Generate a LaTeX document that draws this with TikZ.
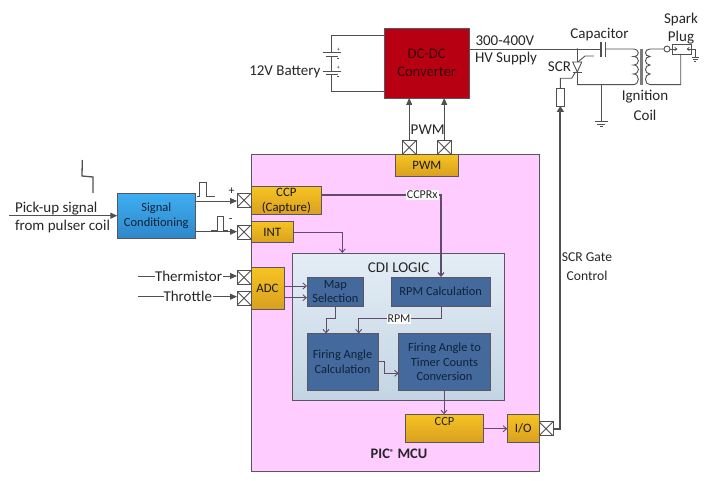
\documentclass[tikz,border=0pt]{standalone}
\usepackage{fontspec}
\setmainfont{Carlito}
\usetikzlibrary{arrows.meta,calc}
\definecolor{wire}{HTML}{505050}
\definecolor{inner}{HTML}{5F4B6B}
\definecolor{edgec}{HTML}{5A5560}
\definecolor{mcufill}{HTML}{FFCCFF}
\definecolor{conv}{HTML}{B70012}
\definecolor{convtxt}{HTML}{3A060E}
\definecolor{goldtop}{HTML}{F6C322}
\definecolor{goldbot}{HTML}{D9A020}
\definecolor{logicb}{HTML}{44699D}
\definecolor{logict}{HTML}{0F2238}
\definecolor{sigtop}{HTML}{3FAEF2}
\definecolor{sigbot}{HTML}{2E87C8}
\definecolor{cditop}{HTML}{E4EDF6}
\definecolor{cdibot}{HTML}{C3D5E3}
\tikzset{
  x=1pt,y=-1pt,
  every node/.style={inner sep=0pt,outer sep=0pt,align=center,font=\fontsize{15}{18}\selectfont,text=black!85},
  box/.style={draw=edgec,line width=0.9pt},
  gold/.style={box,top color=goldtop,bottom color=goldbot,font=\fontsize{12.8}{15}\selectfont,text=black!90},
  logic/.style={box,fill=logicb,font=\fontsize{12.4}{14.8}\selectfont,text=logict},
  pin/.style={draw=wire,line width=0.9pt,fill=white,minimum width=14pt,minimum height=14pt,
    path picture={\draw[wire,line width=0.9pt] (path picture bounding box.north west)--(path picture bounding box.south east)
      (path picture bounding box.north east)--(path picture bounding box.south west);}},
  wirel/.style={draw=wire,line width=0.9pt},
  bigarr/.style={wirel,-{Triangle[length=7pt,width=6pt]}},
  thickarr/.style={draw=wire,line width=1.8pt,-{Triangle[length=6pt,width=7pt]}},
  logicarr/.style={draw=inner,line width=0.9pt,-{Straight Barb[length=3.5pt,width=6pt]}},
  tag/.style={fill=white,inner xsep=1pt,inner ysep=1pt,font=\fontsize{12}{14}\selectfont},
  gatetxt/.style={font=\fontsize{13.6}{16}\selectfont},
}
% block given by its corner coordinates
\newcommand{\blk}[7]{\node[#2,minimum width={#5-#3},minimum height={#6-#4}] (#1) at ({(#3+#5)/2},{(#4+#6)/2}) {#7};}
\begin{document}
\begin{tikzpicture}
\useasboundingbox (0,0) rectangle (709,481);

% microcontroller body and logic area
\blk{mcu}{box,fill=mcufill}{251}{154.7}{539}{471}{}
\blk{cdi}{box,top color=cditop,bottom color=cdibot}{292.7}{253.3}{504.3}{400}{}
\node (cditxt) at (398.7,267.5) {CDI LOGIC};
\node[font=\fontsize{14.5}{16}\selectfont\bfseries] (pic) at (399,454) {PIC\raisebox{3.5pt}{\fontsize{8.5}{9}\selectfont ®} MCU};

% peripheral blocks
\blk{pwm}{gold}{395}{154.7}{458.7}{176}{PWM}
\blk{ccpc}{gold}{251}{186.7}{321.7}{214.3}{CCP\\(Capture)}
\blk{int}{gold}{251}{221.7}{293.3}{242.7}{INT}
\blk{adc}{gold}{251}{267.3}{284}{309.3}{ADC}
\blk{ccpo}{gold}{405.7}{414.3}{483.3}{442.3}{}
\node[font=\fontsize{12.5}{14}\selectfont] (ccpotxt) at (444.5,421.7) {CCP};
\blk{io}{gold}{507.3}{414.3}{539}{442.3}{I/O}

% logic blocks
\blk{map}{logic}{307}{277.3}{363.7}{306}{Map\\Selection}
\blk{rpm}{logic}{391}{277.3}{490.3}{306}{RPM Calculation}
\blk{fac}{logic}{307}{333.7}{378}{390}{Firing Angle\\Calculation}
\blk{ftc}{logic}{398.7}{333.7}{490.3}{390}{Firing Angle to\\Timer Counts\\Conversion}

% external blocks
\blk{dcdc}{box,fill=conv,text=convtxt,font=\fontsize{14.6}{18}\selectfont}{384.3}{28}{469}{98}{DC-DC\\Converter}
\blk{sig}{box,top color=sigtop,bottom color=sigbot,text=logict,font=\fontsize{12.5}{14.8}\selectfont}{117.3}{193.3}{195.3}{238.7}{Signal\\Conditioning}

% package pins
\node[pin] (pa) at (409.2,147.5) {};
\node[pin] (pb) at (444.2,147.5) {};
\node[pin] (pc) at (244,200.3) {};
\node[pin] (pd) at (244,232) {};
\node[pin] (pe) at (244,277.5) {};
\node[pin] (pf) at (244,298.2) {};
\node[pin] (pg) at (546,428.7) {};

% PWM outputs
\draw[bigarr] (pa.north) -- (pa.north |- dcdc.south);
\draw[bigarr] (pb.north) -- (pb.north |- dcdc.south);
\node (pwmtxt) at (427.7,130) {PWM};

% pick-up input and conditioned signals
\coordinate (pickup) at (9.3,215.7);
\draw[draw=wire,line width=1.2pt,-{Triangle[length=7pt,width=6pt]}] (pickup) -- (sig.west |- pickup);
\node[anchor=west] (pick1) at (15,209) {Pick-up signal};
\node[anchor=west] (pick2) at (15,227) {from pulser coil};
\draw[bigarr] (sig.east |- 0,201) -- (pc.west |- 0,201);
\draw[bigarr] (sig.east |- 0,231.7) -- (pd.west |- 0,231.7);
\node[font=\fontsize{12}{13}\selectfont] (plus) at (231.7,191) {+};
\node[font=\fontsize{12}{13}\selectfont] (minus) at (230.7,221) {-};
\draw[wirel] (197,196)--(199,196)--(199,182)--(206,182)--(206,196)--(215,196);
\draw[wirel] (211,230.3)--(217,230.3)--(217,216)--(223,216)--(223,230.3)--(228,230.3);
\draw[draw=wire,line width=1.3pt] (82.3,160)--(82,176)--(93,177)--(93,193);

% sensor inputs
\node[anchor=west] (therm) at (155,276) {Thermistor};
\node[anchor=west] (thrott) at (163.5,296.7) {Throttle};
\coordinate (thermin) at (138,276);
\coordinate (throin) at (138,296.7);
\draw[wirel] (thermin) -- (therm.west);
\draw[wirel] (throin) -- (thrott.west);
\draw[bigarr] (therm.east) ++(1,0) -- (pe.west |- therm.east);
\draw[bigarr] (thrott.east) ++(1,0) -- (pf.west |- thrott.east);

% internal signal routing
\draw[logicarr] (int.east |- 0,232) -| (342.3,253);
\draw[draw=inner,line width=1.2pt,-{Straight Barb[length=3.5pt,width=6pt]}] (ccpc.east |- 0,195) -| (441,277);
\node[tag] (ccprx) at (422.3,195) {CCPRx};
\draw[logicarr] (adc.east |- 0,286) -- (map.west |- 0,286);
\draw[logicarr] (adc.east |- 0,297.7) -- (map.west |- 0,297.7);
\draw[logicarr] (335,306) -- (335,318.7) -- (326,318.7) -- (326,333.5);
\draw[logicarr] (441.3,306) -- (441.3,318.7) -- (358.7,318.7) -- (358.7,333.5);
\node[tag] (rpmtag) at (399,319) {RPM};
\draw[logicarr] (fac.east |- 0,361.7) -- (384,361.7) -- (384,373.3) -- (ftc.west |- 0,373.3);
\draw[logicarr] (ftc.south -| 444,0) -- (ccpo.north -| 444,0);
\draw[logicarr] (ccpo.east |- 0,428.7) -- (io.west |- 0,428.7);

% 12 V battery
\node[anchor=east] (battxt) at (320.5,72) {12V Battery};
\draw[wirel] (dcdc.west |- 0,35) -- (331.7,35) -- (331.7,52.7);
\draw[wirel] (331.7,56) -- (331.7,71);
\draw[wirel] (331.7,74) -- (331.7,91) -- (dcdc.west |- 0,91);
\draw[wirel] (322.7,52.7) -- (341,52.7) (325.7,56) -- (338,56);
\draw[wirel] (322.7,71) -- (341,71) (325.7,74) -- (338,74);
\node[font=\fontsize{6}{7}\selectfont] at (338.3,50.2) {+};
\node[font=\fontsize{6}{7}\selectfont] at (338.3,68.2) {+};
\draw[draw=wire,line width=0.6pt] (337.3,58)--(339,58) (337.3,76)--(339,76);

% high-voltage side
\node[anchor=west] (hv1) at (475.5,40.5) {300-400V};
\node[anchor=west] (hv2) at (475,59) {HV Supply};
\node (captxt) at (599.5,35) {Capacitor};
\node (scrtxt) at (559.5,67) {SCR};
\node (igntxt) at (645,97) {Ignition};
\node (coiltxt) at (645,115) {Coil};
\node (sptxt) at (681,20) {Spark};
\node (pltxt) at (681,38) {Plug};
\draw[wirel] (dcdc.east |- 0,49) -- (601,49);
\draw[draw=wire,line width=1.2pt] (601,42) -- (601,56.7) (605.7,42) -- (605.7,56.7);
\draw[wirel] (605.7,49) -- (633,49) .. controls (640,49) and (640,56.5) .. (633.5,56.5)
  .. controls (640,56.5) and (640,65) .. (633.5,65)
  .. controls (640,65) and (640,74) .. (633.5,74)
  .. controls (640,74) and (640,84.7) .. (633,84.7) -- (577.3,84.7);
\draw[wire,line width=3pt,opacity=.75] (641.7,49) -- (641.7,85);
\draw[wirel] (664,49) -- (650,49) .. controls (644,49) and (644,56.5) .. (650,56.5)
  .. controls (644,56.5) and (644,65) .. (650,65)
  .. controls (644,65) and (644,74) .. (650,74)
  .. controls (644,74) and (644,84.7) .. (650,84.7) -- (680.7,84.7) -- (680.7,54);
\draw[wirel] (577.3,49) -- (577.3,84.7);
\fill[wire] (577.3,49) circle (0.7pt);

% SCR symbol and gate
\draw[wirel,fill=white] (572.7,62) -- (581.7,62) -- (577.3,72) -- cycle;
\draw[wirel] (572.7,72) -- (581.7,72);
\draw[wirel] (578,62) -- (585,56) -- (594,56);
\blk{res}{box,fill=white,draw=wire}{556.7}{88}{564}{106}{}
\draw[wirel] (res.north) -- (560.3,78.3) -- (571.7,78.3) -- (575.5,72);
\draw[thickarr] (pg.east) -| (res.south);
\node[gatetxt] (gate1) at (587,257) {SCR Gate};
\node[gatetxt] (gate2) at (587,276) {Control};

% capacitor-node ground
\coordinate (gnda) at (601,121.7);
\draw[wirel] (601,84.7) -- (gnda);
\draw[wirel] (594.5,121.7) -- (607.5,121.7) (597,124) -- (605,124) (599.5,126.3) -- (602.5,126.3);

% spark plug
\node[draw=wire,line width=0.9pt,minimum width=18.6pt,minimum height=10pt] (plug) at (682,49) {};
\draw[wirel] (667,49) circle (3pt);
\draw[wirel,-{Straight Barb[length=2pt,width=3pt]}] (670,49) -- (677.5,49);
\draw[wirel,-{Straight Barb[length=2pt,width=3pt]}] (695,49) -- (686.5,49);
\draw[wirel] (695,49) -- (695,57);
\draw[wirel] (691.5,57) -- (698.5,57) (692.5,59) -- (697.5,59) (694,61) -- (696,61);
\end{tikzpicture}
\end{document}
